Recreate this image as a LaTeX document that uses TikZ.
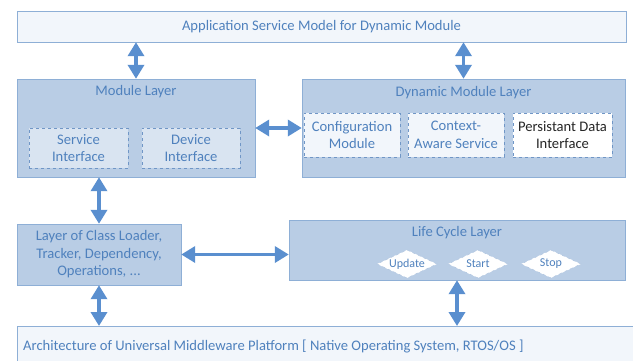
\documentclass[tikz,border=0pt]{standalone}
\usepackage{fontspec}
\setmainfont{Carlito}
\usetikzlibrary{shapes.geometric,arrows.meta}
\definecolor{layerfill}{HTML}{B9CDE5}
\definecolor{layerline}{HTML}{8EAFD6}
\definecolor{labelblue}{HTML}{4F81BD}
\definecolor{arrowblue}{HTML}{5A8FCF}
\definecolor{palefill}{HTML}{F2F6FB}
\definecolor{dashline}{HTML}{7096C6}

\begin{document}
\begin{tikzpicture}[x=1pt,y=-1pt,
  font=\fontsize{14.6}{17.5}\selectfont,
  layer/.style={draw=layerline,fill=layerfill,rectangle,inner sep=0pt},
  pale/.style={draw=layerline,fill=palefill,rectangle,inner sep=0pt,text=labelblue},
  part/.style={draw=dashline,dashed,rectangle,inner sep=0pt,minimum height=40pt,
    align=center,text=labelblue},
  title/.style={text=labelblue,inner sep=0pt},
  state/.style={diamond,shape aspect=2,draw=dashline!60,dashed,fill=white,inner sep=0pt,
    minimum width=60pt,minimum height=28pt,text=labelblue,
    font=\fontsize{12}{14}\selectfont},
  link/.style={{Triangle[length=14pt,width=16pt]}-{Triangle[length=14pt,width=16pt]},
    draw=arrowblue,line width=3.5pt}]

\useasboundingbox (0,0) rectangle (633,360);

\node[pale,minimum width=609pt,minimum height=31pt] (0) at (321.5,26.5) {Application Service Model for Dynamic Module};

\node[layer,minimum width=238pt,minimum height=98pt] (1) at (136,128) {};
\node[title] (1t) at (136,92) {Module Layer};
\node[part,minimum width=99pt,fill=layerfill!55!white] (11) at (78.5,148) {Service\\Interface};
\node[part,minimum width=98pt,fill=layerfill!55!white] (12) at (191,148) {Device\\Interface};

\node[layer,minimum width=323pt,minimum height=98pt] (2) at (463.5,128) {};
\node[title] (2t) at (463.5,93) {Dynamic Module Layer};
\node[part,minimum width=96pt,minimum height=44pt,fill=palefill] (21) at (352,135) {Configuration\\Module};
\node[part,minimum width=96pt,minimum height=44pt,fill=palefill] (22) at (456,135) {Context-\\Aware Service};
\node[part,minimum width=99pt,minimum height=44pt,fill=white,text=black!85] (23) at (562.5,135) {Persistant Data\\Interface};

\node[layer,minimum width=164pt,minimum height=61pt,align=center,text=labelblue] (3) at (99,254.5) {Layer of Class Loader,\\Tracker, Dependency,\\Operations, ...};

\node[layer,minimum width=336pt,minimum height=60pt] (4) at (457,250) {};
\node[title] (4t) at (457,233) {Life Cycle Layer};
\node[state] (41) at (407,264) {Update};
\node[state] (42) at (478,264) {Start};
\node[state] (43) at (551,264) {Stop};

\node[pale,anchor=north west,minimum width=630pt,minimum height=40pt] (5) at (17,326) {};
\node[title,anchor=west] (5t) at (23,346) {Architecture of Universal Middleware Platform [ Native Operating System, RTOS/OS ]};

\draw[link] (0.south -| 1.north) -- (1.north);
\draw[link] (0.south -| 2.north) -- (2.north);
\draw[link] (1.east) -- (2.west);
\draw[link] (1.south -| 3.north) -- (3.north);
\draw[link] (3.east) -- (3.east -| 4.west);
\draw[link] (3.south) -- (3.south |- 5.north);
\draw[link] (4.south) -- (4.south |- 5.north);

\end{tikzpicture}
\end{document}
